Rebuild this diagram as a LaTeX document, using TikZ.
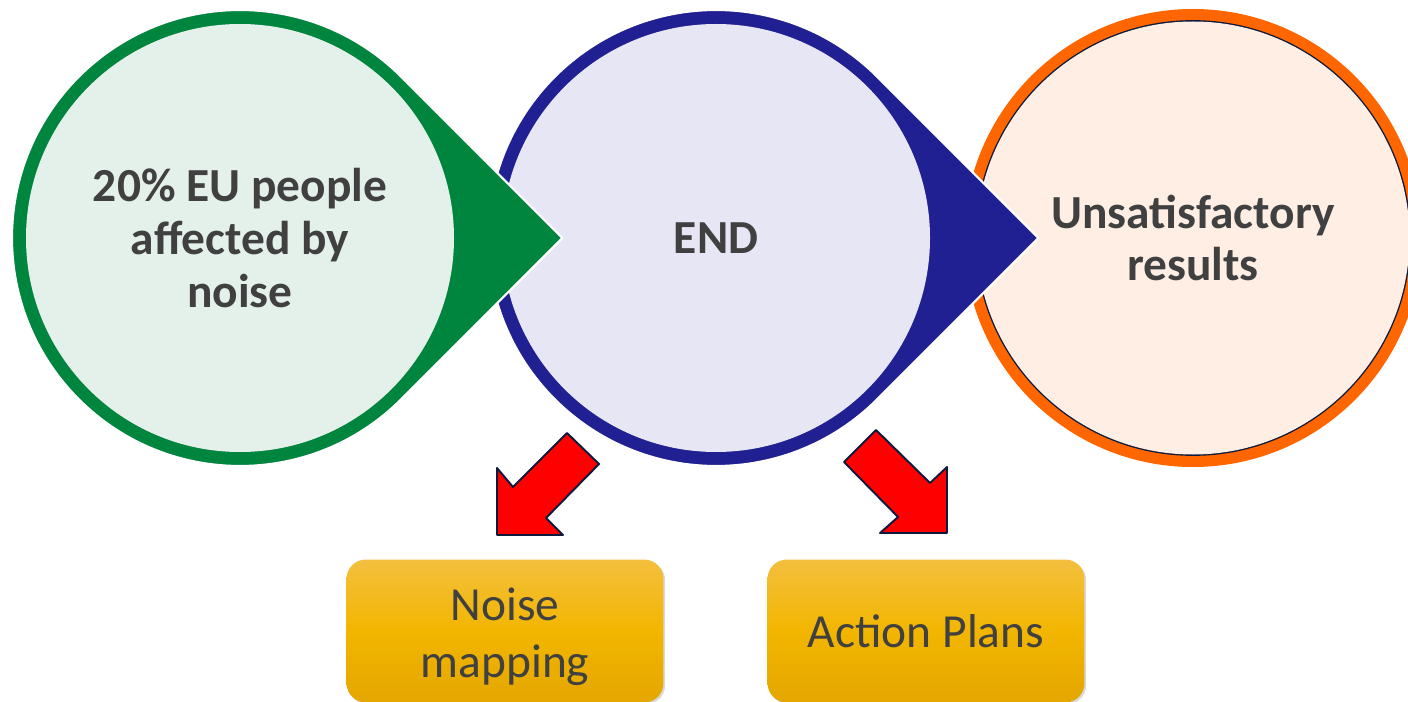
\documentclass[tikz,border=0pt]{standalone}
\usepackage{fontspec}
\setmainfont{Carlito}
\usetikzlibrary{shadows}
\definecolor{greenR}{RGB}{0,133,62}
\definecolor{greenF}{RGB}{227,241,234}
\definecolor{blueR}{RGB}{32,32,146}
\definecolor{blueF}{RGB}{231,230,244}
\definecolor{orangeR}{RGB}{255,102,0}
\definecolor{orangeF}{RGB}{254,238,228}
\definecolor{navy}{RGB}{14,26,60}
\definecolor{txt}{RGB}{64,64,64}
\definecolor{goldT}{RGB}{243,191,62}
\definecolor{goldM}{RGB}{242,182,0}
\definecolor{goldB}{RGB}{228,166,0}
\begin{document}
\begin{tikzpicture}[x=0.02cm, y=0.02cm, line join=round,
	circtext/.style={text=txt, align=center, font=\fontsize{27}{30}\selectfont\bfseries},
	planbox/.style={rounded corners=11pt, minimum width=6.34cm, minimum height=2.86cm,
		top color=goldT, bottom color=goldB, middle color=goldM, text=txt, align=center,
		font=\fontsize{27}{32}\selectfont, drop shadow={opacity=0.3, shadow xshift=1pt, shadow yshift=-1pt}},
	redarrow/.style={fill=red, draw=navy, line width=1.1pt}]
	\def\cy{-238}\def\r{228}
	\useasboundingbox (0,0) rectangle (1408,-702);
	% orange circle
	\fill[orangeR] (1193,\cy) circle[radius=229];
	\draw[navy, line width=1pt] (1193,\cy) circle[radius=217];
	\fill[orangeF] (1193,\cy) circle[radius=216.5];
	% circles with pointers
	\foreach \cx/\ring/\inner in {716/blueR/blueF, 240/greenR/greenF}{
		\filldraw[fill=\ring, draw=white, line width=1.2pt] (\cx,\cy) ++(45:\r) arc[start angle=45, end angle=315, radius=\r] -- (\cx+322.4,\cy) -- cycle;
		\fill[\inner] (\cx,\cy) circle[radius=214];
	}
	\node[circtext] (people) at (240,\cy) {20\% EU people\\affected by\\noise};
	\node[circtext] (end) at (716,\cy) {END};
	\node[circtext] (results) at (1193,\cy) {Unsatisfactory\\results};
	% red arrows
	\filldraw[redarrow] (567,-433) -- (599,-464) -- (546,-518) -- (563,-535) -- (497,-535) -- (497,-468) -- (513,-487) -- cycle;
	\filldraw[redarrow] (876,-430) -- (844,-462) -- (898,-517) -- (880,-533) -- (947,-533) -- (947,-467) -- (930,-483) -- cycle;
	% boxes
	\node[planbox] (mapping) at (505,-631) {\rule{0pt}{25pt}Noise\\mapping};
	\node[planbox] (plans) at (926,-631) {Action Plans};
\end{tikzpicture}
\end{document}
